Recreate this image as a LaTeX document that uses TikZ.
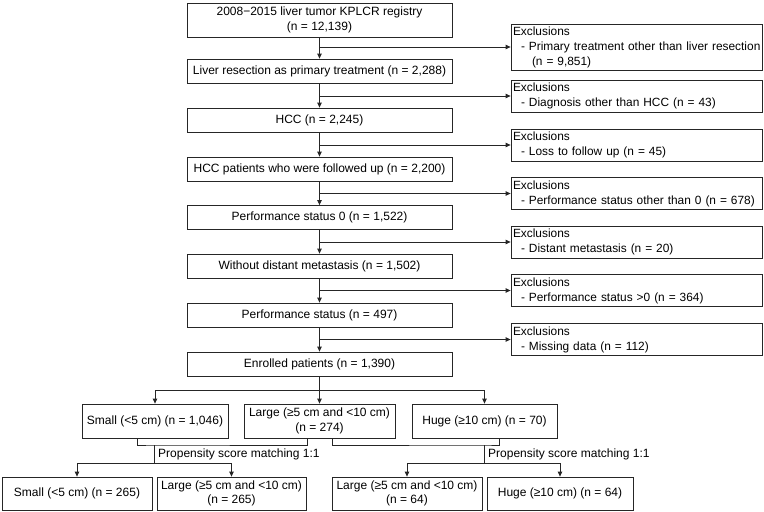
\documentclass[tikz,border=0pt]{standalone}
\usepackage{fontspec}
\setmainfont{Liberation Sans}
\usetikzlibrary{arrows.meta}
\begin{document}
\begin{tikzpicture}[x=1pt,y=-1pt,
  line/.style={draw=black!85, line width=0.8pt},
  arr/.style={line, -{Triangle[length=5pt,width=4.5pt]}},
  box/.style={line, inner sep=1pt, align=center, font=\fontsize{12}{14.5}\selectfont},
  mainbox/.style={box, minimum width=265pt, minimum height=24pt},
  exbox/.style={line, inner xsep=2pt, inner ysep=1pt, text width=247pt, align=left, minimum height=32pt, font=\fontsize{11.9}{15}\selectfont},
  lvbox/.style={box, minimum height=34pt},
  lv3box/.style={box, minimum height=33pt},
  lbl/.style={font=\fontsize{12}{14.5}\selectfont, inner sep=1pt, anchor=west}
]
\useasboundingbox (0,0) rectangle (764,512);

% main column
\node[mainbox, minimum height=34pt] (b1) at (319.5,20) {2008\textminus 2015 liver tumor KPLCR registry\\(n = 12,139)};
\node[mainbox] (b2) at (319.5,71) {Liver resection as primary treatment (n = 2,288)};
\node[mainbox] (b3) at (319.5,120) {HCC (n = 2,245)};
\node[mainbox] (b4) at (319.5,169) {HCC patients who were followed up (n = 2,200)};
\node[mainbox] (b5) at (319.5,217.5) {Performance status 0 (n = 1,522)};
\node[mainbox] (b6) at (319.5,266) {Without distant metastasis (n = 1,502)};
\node[mainbox] (b7) at (319.5,315) {Performance status (n = 497)};
\node[mainbox] (b8) at (319.5,364) {Enrolled patients (n = 1,390)};

% exclusions
\node[exbox, minimum height=46pt] (e1) at (636.5,47) {Exclusions\\\mbox{\hspace*{8pt}- Primary treatment other than liver resection}\\\hspace*{19pt}(n = 9,851)};
\node[exbox] (e2) at (636.5,96) {Exclusions\\\mbox{\hspace*{8pt}- Diagnosis other than HCC (n = 43)}};
\node[exbox] (e3) at (636.5,145) {Exclusions\\\mbox{\hspace*{8pt}- Loss to follow up (n = 45)}};
\node[exbox] (e4) at (636.5,193.5) {Exclusions\\\mbox{\hspace*{8pt}- Performance status other than 0 (n = 678)}};
\node[exbox] (e5) at (636.5,242) {Exclusions\\\mbox{\hspace*{8pt}- Distant metastasis (n = 20)}};
\node[exbox] (e6) at (636.5,290.5) {Exclusions\\\mbox{\hspace*{8pt}- Performance status >0 (n = 364)}};
\node[exbox] (e7) at (636.5,339.5) {Exclusions\\\mbox{\hspace*{8pt}- Missing data (n = 112)}};

\foreach \a/\b/\e in {b1/b2/e1,b2/b3/e2,b3/b4/e3,b4/b5/e4,b5/b6/e5,b6/b7/e6,b7/b8/e7}{
  \draw[arr] (\a) -- (\b);
  \draw[arr] (\a.south |- \e.west) -- (\e.west);
}

% size groups
\node[lvbox, minimum width=146pt] (s) at (155,421) {Small (<5 cm) (n = 1,046)};
\node[lvbox, minimum width=151pt] (l) at (319.5,421) {Large (≥5 cm and <10 cm)\\(n = 274)};
\node[lvbox, minimum width=145pt] (h) at (484.5,421) {Huge (≥10 cm) (n = 70)};

\coordinate (j) at (319.5,390);
\draw[arr] (b8) -- (l);
\draw[arr] (j) -| (s.north);
\draw[arr] (j) -| (h.north);

% matched groups
\node[lv3box, minimum width=150pt] (s2) at (77,493.5) {Small (<5 cm) (n = 265)};
\node[lv3box, minimum width=149pt] (l2) at (231.5,493.5) {Large (≥5 cm and <10 cm)\\(n = 265)};
\node[lv3box, minimum width=150pt] (l3) at (407,493.5) {Large (≥5 cm and <10 cm)\\(n = 64)};
\node[lv3box, minimum width=146pt] (h2) at (560,493.5) {Huge (≥10 cm) (n = 64)};

% left matching bracket
\coordinate (m1) at (154,445);
\coordinate (m1b) at (154,463);
\draw[line] ([xshift=-18pt]s.south) |- (m1) -| ([xshift=-12.5pt]l.south);
\draw[line] (m1) -- (m1b);
\draw[arr] (m1b) -| (s2.north);
\draw[arr] (m1b) -| (l2.north);
\node[lbl] (t1) at (157,454) {Propensity score matching 1:1};

% right matching bracket
\coordinate (m2) at (484,445);
\coordinate (m2b) at (484,463);
\draw[line] ([xshift=12.5pt]l.south) |- (m2) -| ([xshift=14.5pt]h.south);
\draw[line] (m2) -- (m2b);
\draw[arr] (m2b) -| (l3.north);
\draw[arr] (m2b) -| (h2.north);
\node[lbl] (t2) at (487,454) {Propensity score matching 1:1};
\end{tikzpicture}
\end{document}
